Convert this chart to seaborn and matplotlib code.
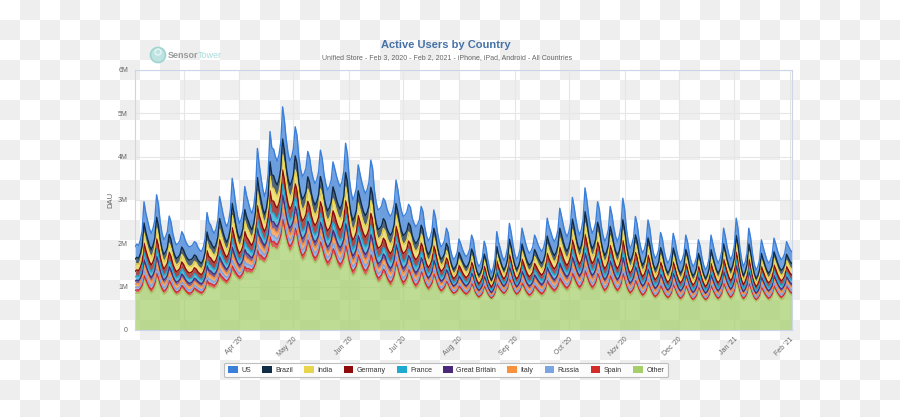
import numpy as np
import pandas as pd
import matplotlib
matplotlib.use('Agg')
import matplotlib.pyplot as plt
import matplotlib.patches as mpatches
import seaborn as sns

# Daily DAU, millions, Feb 3 2020 .. Feb 2 2021 (one week per row, Mon..Sun)
total_m = [
    1.92, 1.98, 1.95, 2.08, 2.30, 2.96, 2.70,
    2.52, 2.34, 2.23, 2.34, 2.54, 3.12, 2.90,
    2.50, 2.24, 2.08, 2.15, 2.27, 2.63, 2.49,
    2.23, 2.06, 1.96, 2.00, 2.07, 2.27, 2.19,
    2.06, 1.97, 1.92, 1.93, 1.96, 2.04, 2.01,
    1.90, 1.84, 1.81, 1.92, 2.13, 2.71, 2.49,
    2.42, 2.30, 2.23, 2.33, 2.53, 3.08, 2.87,
    2.66, 2.49, 2.38, 2.51, 2.77, 3.50, 3.22,
    2.88, 2.62, 2.46, 2.56, 2.76, 3.31, 3.10,
    2.94, 2.78, 2.69, 2.87, 3.22, 4.19, 3.82,
    3.52, 3.25, 3.08, 3.26, 3.61, 4.58, 4.21,
    4.17, 4.00, 3.90, 4.05, 4.34, 5.15, 4.84,
    4.40, 4.09, 3.90, 3.99, 4.18, 4.69, 4.49,
    4.00, 3.71, 3.54, 3.61, 3.74, 4.12, 3.98,
    3.68, 3.49, 3.38, 3.47, 3.65, 4.15, 3.96,
    3.60, 3.37, 3.23, 3.31, 3.46, 3.88, 3.72,
    3.54, 3.40, 3.31, 3.43, 3.66, 4.31, 4.06,
    3.52, 3.20, 3.00, 3.10, 3.28, 3.81, 3.61,
    3.41, 3.25, 3.15, 3.24, 3.42, 3.92, 3.73,
    3.23, 2.94, 2.77, 2.80, 2.86, 3.04, 2.97,
    2.79, 2.68, 2.62, 2.72, 2.91, 3.46, 3.25,
    2.96, 2.75, 2.62, 2.65, 2.72, 2.90, 2.83,
    2.59, 2.46, 2.38, 2.44, 2.54, 2.85, 2.73,
    2.37, 2.17, 2.05, 2.14, 2.30, 2.77, 2.59,
    2.26, 2.05, 1.92, 1.97, 2.07, 2.35, 2.24,
    1.91, 1.73, 1.62, 1.68, 1.79, 2.10, 1.98,
    1.85, 1.75, 1.69, 1.75, 1.87, 2.19, 2.07,
    1.75, 1.57, 1.46, 1.53, 1.67, 2.05, 1.90,
    1.61, 1.42, 1.31, 1.43, 1.65, 2.27, 2.03,
    1.87, 1.70, 1.60, 1.70, 1.90, 2.46, 2.25,
    1.96, 1.75, 1.62, 1.71, 1.88, 2.35, 2.17,
    2.00, 1.86, 1.77, 1.82, 1.92, 2.19, 2.09,
    1.96, 1.87, 1.81, 1.90, 2.08, 2.58, 2.39,
    2.26, 2.12, 2.04, 2.13, 2.31, 2.81, 2.62,
    2.41, 2.25, 2.15, 2.26, 2.47, 3.06, 2.83,
    2.54, 2.32, 2.19, 2.32, 2.57, 3.28, 3.01,
    2.65, 2.39, 2.23, 2.32, 2.49, 2.96, 2.78,
    2.41, 2.18, 2.04, 2.14, 2.32, 2.85, 2.65,
    2.36, 2.16, 2.04, 2.16, 2.39, 3.04, 2.79,
    2.34, 2.05, 1.88, 1.97, 2.14, 2.62, 2.44,
    2.11, 1.90, 1.77, 1.86, 2.04, 2.54, 2.35,
    2.01, 1.78, 1.65, 1.72, 1.86, 2.25, 2.10,
    1.82, 1.65, 1.54, 1.62, 1.78, 2.23, 2.06,
    1.82, 1.64, 1.54, 1.62, 1.77, 2.19, 2.03,
    1.75, 1.57, 1.46, 1.53, 1.68, 2.08, 1.93,
    1.66, 1.49, 1.38, 1.48, 1.66, 2.19, 1.99,
    1.80, 1.64, 1.54, 1.64, 1.82, 2.35, 2.15,
    1.91, 1.73, 1.62, 1.74, 1.96, 2.58, 2.34,
    1.91, 1.63, 1.46, 1.57, 1.77, 2.35, 2.13,
    1.77, 1.53, 1.38, 1.46, 1.63, 2.08, 1.91,
    1.76, 1.62, 1.54, 1.61, 1.74, 2.12, 1.98,
    1.82, 1.70, 1.62, 1.67, 1.77, 2.04, 1.94,
    1.85, 1.80,
]

other_m = [
    0.85, 0.86, 0.85, 0.89, 0.95, 1.15, 1.08,
    0.97, 0.90, 0.85, 0.89, 0.97, 1.20, 1.11,
    0.97, 0.88, 0.82, 0.85, 0.90, 1.05, 0.99,
    0.90, 0.84, 0.80, 0.82, 0.85, 0.95, 0.91,
    0.85, 0.81, 0.78, 0.79, 0.82, 0.90, 0.87,
    0.84, 0.82, 0.80, 0.83, 0.89, 1.05, 0.99,
    0.99, 0.97, 0.95, 0.98, 1.04, 1.20, 1.14,
    1.11, 1.07, 1.05, 1.09, 1.16, 1.35, 1.28,
    1.23, 1.18, 1.15, 1.17, 1.22, 1.35, 1.30,
    1.32, 1.31, 1.30, 1.35, 1.44, 1.70, 1.60,
    1.61, 1.57, 1.55, 1.60, 1.71, 2.00, 1.89,
    1.91, 1.87, 1.85, 1.92, 2.04, 2.40, 2.26,
    2.04, 1.89, 1.80, 1.85, 1.94, 2.20, 2.10,
    1.84, 1.69, 1.60, 1.64, 1.72, 1.95, 1.86,
    1.71, 1.61, 1.55, 1.59, 1.67, 1.90, 1.81,
    1.63, 1.52, 1.45, 1.49, 1.56, 1.75, 1.68,
    1.54, 1.45, 1.40, 1.45, 1.54, 1.80, 1.70,
    1.47, 1.33, 1.25, 1.29, 1.37, 1.60, 1.51,
    1.39, 1.30, 1.25, 1.29, 1.37, 1.60, 1.51,
    1.30, 1.18, 1.10, 1.12, 1.17, 1.30, 1.25,
    1.12, 1.05, 1.00, 1.05, 1.16, 1.45, 1.34,
    1.18, 1.07, 1.00, 1.04, 1.11, 1.30, 1.23,
    1.09, 1.00, 0.95, 0.99, 1.06, 1.25, 1.18,
    1.04, 0.95, 0.90, 0.94, 1.01, 1.20, 1.13,
    0.99, 0.90, 0.85, 0.87, 0.92, 1.05, 1.00,
    0.90, 0.84, 0.80, 0.82, 0.85, 0.95, 0.91,
    0.85, 0.81, 0.78, 0.81, 0.86, 1.00, 0.95,
    0.83, 0.76, 0.72, 0.75, 0.80, 0.95, 0.89,
    0.80, 0.74, 0.70, 0.74, 0.81, 1.00, 0.93,
    0.88, 0.83, 0.80, 0.84, 0.91, 1.10, 1.03,
    0.91, 0.83, 0.78, 0.81, 0.86, 1.00, 0.95,
    0.85, 0.79, 0.75, 0.77, 0.82, 0.95, 0.90,
    0.85, 0.81, 0.78, 0.81, 0.87, 1.05, 0.98,
    0.93, 0.88, 0.85, 0.88, 0.94, 1.10, 1.04,
    0.98, 0.93, 0.90, 0.94, 1.01, 1.20, 1.13,
    1.03, 0.96, 0.92, 0.96, 1.04, 1.25, 1.17,
    1.05, 0.97, 0.92, 0.95, 1.02, 1.20, 1.13,
    0.99, 0.90, 0.85, 0.89, 0.96, 1.15, 1.08,
    0.97, 0.90, 0.85, 0.89, 0.97, 1.20, 1.11,
    0.96, 0.86, 0.80, 0.83, 0.89, 1.05, 0.99,
    0.87, 0.80, 0.75, 0.78, 0.84, 1.00, 0.94,
    0.83, 0.76, 0.72, 0.75, 0.80, 0.95, 0.89,
    0.80, 0.74, 0.70, 0.73, 0.80, 0.98, 0.91,
    0.80, 0.73, 0.68, 0.71, 0.77, 0.95, 0.88,
    0.78, 0.70, 0.66, 0.69, 0.75, 0.92, 0.86,
    0.76, 0.70, 0.66, 0.69, 0.76, 0.95, 0.88,
    0.79, 0.72, 0.68, 0.72, 0.79, 1.00, 0.92,
    0.82, 0.75, 0.70, 0.75, 0.84, 1.10, 1.00,
    0.85, 0.74, 0.68, 0.72, 0.79, 1.00, 0.92,
    0.80, 0.71, 0.66, 0.69, 0.75, 0.92, 0.86,
    0.78, 0.72, 0.68, 0.71, 0.77, 0.95, 0.88,
    0.80, 0.74, 0.70, 0.73, 0.79, 0.95, 0.89,
    0.82, 0.80,
]

countries = ['US', 'Brazil', 'India', 'Germany', 'France',
             'Great Britain', 'Italy', 'Russia', 'Spain', 'Other']
# split of (total - Other) among the named countries
rest_share = [0.27, 0.13, 0.13, 0.12, 0.09, 0.07, 0.07, 0.06, 0.06]
colors = ['#3a7fd9', '#0f2a44', '#e8d44d', '#8e0a0a', '#1eaad1',
          '#4b2a7b', '#f7913d', '#7ba4e3', '#d32a2a', '#a6cf6b']
month_labels = ['', "Apr '20", "May '20", "Jun '20", "Jul '20", "Aug '20",
                "Sep '20", "Oct '20", "Nov '20", "Dec '20", "Jan '21", "Feb '21"]

dates = pd.date_range('2020-02-03', periods=len(total_m), freq='D')
total = np.array(total_m) * 1e6
other = np.array(other_m) * 1e6
df = pd.DataFrame({'date': dates, 'Other': other})
for name, s in zip(countries[:-1], rest_share):
    df[name] = (total - other) * s

sns.set_style('white')
plt.rcParams['font.family'] = ['Liberation Sans', 'DejaVu Sans']

W, H = 900, 417
fig = plt.figure(figsize=(W / 100, H / 100), dpi=100)
fig.patch.set_alpha(0)

# transparent-background checkerboard
yy, xx = np.indices((H, W))
chk = np.where(((xx // 20) + (yy // 20)) % 2 == 1, 0.935, 1.0)
fig.figimage(np.dstack([chk, chk, chk]), 0, 0, origin='upper', zorder=-10)

ax = fig.add_axes([135 / W, 1 - 330 / H, (792 - 135) / W, 260 / H])
ax.patch.set_alpha(0)

# stacked areas, bottom (Other) to top (US)
stack_order = countries[::-1]
cmap = dict(zip(countries, colors))
lower = np.zeros(len(df))
edges = []
for name in stack_order:
    upper = lower + df[name].values
    ax.fill_between(df['date'], lower, upper, color=cmap[name],
                    alpha=0.72, lw=0, zorder=2)
    edges.append(pd.DataFrame({'date': df['date'], 'top': upper, 'country': name}))
    lower = upper
edges = pd.concat(edges, ignore_index=True)
sns.lineplot(data=edges, x='date', y='top', hue='country', hue_order=stack_order,
             palette=cmap, legend=False, lw=1.0, ax=ax, zorder=3)

ax.set_xlim(dates[0], dates[-1])
ax.set_ylim(0, 6e6)
ax.set_yticks(np.arange(0, 7e6, 1e6))
ax.set_yticklabels(['0', '1M', '2M', '3M', '4M', '5M', '6M'])
mticks = pd.date_range('2020-03-01', '2021-02-01', freq='MS')
ax.set_xticks(mticks)
ax.set_xticklabels(month_labels, rotation=45, ha='right', rotation_mode='anchor')
ax.tick_params(axis='both', length=0, labelsize=5, labelcolor='#666666')
ax.tick_params(axis='x', pad=4)
ax.tick_params(axis='y', pad=5)
ax.grid(True, color='#e6e6e6', lw=0.8, zorder=0)
for sp in ax.spines.values():
    sp.set_color('#ccd6eb')
    sp.set_linewidth(0.8)
ax.set_xlabel('')
ax.set_ylabel('DAU', fontsize=5.5, color='#666666', labelpad=3)

fig.text(446 / W, 1 - 45 / H, 'Active Users by Country', ha='center', va='center',
         fontsize=8, fontweight='bold', color='#4572a7')
fig.text(447 / W, 1 - 58 / H,
         'Unified Store - Feb 3, 2020 - Feb 2, 2021 - iPhone, iPad, Android - All Countries',
         ha='center', va='center', fontsize=5, color='#666666')

# SensorTower logo
fig.patches.append(mpatches.Ellipse((158 / W, 1 - 55 / H), 15 / W, 15 / H,
                                    transform=fig.transFigure, facecolor='#bfe3e0',
                                    edgecolor='#9ed5d1', lw=1.2, figure=fig))
fig.patches.append(mpatches.Ellipse((158 / W, 1 - 52 / H), 6 / W, 6 / H,
                                    transform=fig.transFigure, facecolor='none',
                                    edgecolor='#e8f5f4', lw=1.0, figure=fig))
fig.text(168 / W, 1 - 55 / H, 'Sensor', ha='left', va='center', fontsize=6.5,
         color='#9a9a9a', fontweight='bold')
fig.text(198 / W, 1 - 55 / H, 'Tower', ha='left', va='center', fontsize=6.5,
         color='#a6dcd8')

handles = [mpatches.Patch(facecolor=c, edgecolor='none', label=n)
           for n, c in zip(countries, colors)]
leg = fig.legend(handles=handles, loc='center', bbox_to_anchor=(446 / W, 1 - 370 / H),
                 ncol=10, fontsize=5, frameon=True, handlelength=1.4, handleheight=1.1,
                 handletextpad=0.5, columnspacing=1.6, borderpad=0.5, fancybox=True)
leg.get_frame().set_edgecolor('#b0b0b0')
leg.get_frame().set_linewidth(0.8)
for t in leg.get_texts():
    t.set_color('#333333')

fig.savefig('out.png', dpi=100)
